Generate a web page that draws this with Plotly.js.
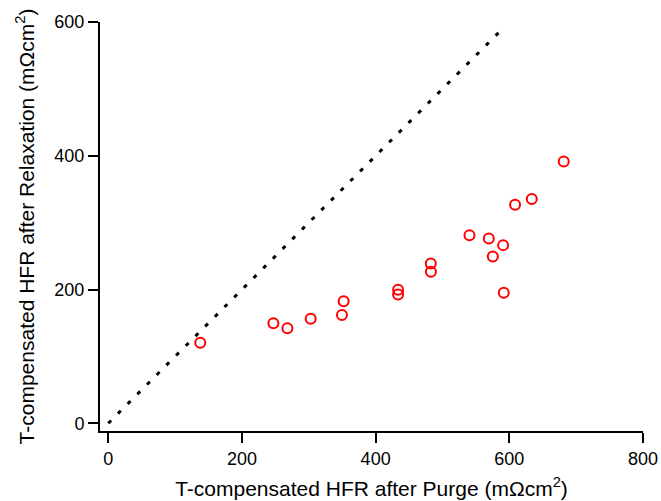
<!DOCTYPE html>
<html>
<head>
<meta charset="utf-8">
<script src="https://cdn.plot.ly/plotly-3.0.1.min.js"></script>
<style>html,body{margin:0;padding:0;background:#fff;}#chart{width:661px;height:501px;}</style>
</head>
<body>
<div id="chart"></div>
<script>
// HFR after purge (x) vs after relaxation (y), mΩcm²
const purgeHFR = [137.6, 247.0, 268.0, 302.8, 349.6, 352.1, 433.6, 433.6, 482.7, 482.5, 540.4, 569.3, 590.7, 575.3, 591.7, 608.6, 633.6, 681.4];
const relaxHFR = [120.3, 149.5, 142.2, 156.2, 161.8, 182.4, 192.6, 199.6, 226.5, 239.0, 281.3, 276.4, 266.4, 249.4, 195.1, 326.8, 335.2, 391.6];
// y = x reference line end points
const refX = [0, 592];
const refY = [0, 592];
const xTicks = [0, 200, 400, 600, 800];
const yTicks = [0, 200, 400, 600];

const font = 'Liberation Sans, Arial, Helvetica, sans-serif';

const traces = [
  {
    x: refX, y: refY, mode: 'lines', type: 'scatter',
    line: {color: '#000', width: 3, dash: '4px,9.7px'},
    hoverinfo: 'skip', showlegend: false
  },
  {
    x: purgeHFR, y: relaxHFR, mode: 'markers', type: 'scatter',
    marker: {symbol: 'circle-open', size: 10, color: '#ff0000', line: {width: 2, color: '#ff0000'}},
    showlegend: false
  }
];

const layout = {
  width: 661, height: 501,
  margin: {l: 100, r: 17.7, t: 21.7, b: 70.3},
  paper_bgcolor: '#fff', plot_bgcolor: '#fff',
  font: {family: font, size: 18, color: '#000'},
  showlegend: false,
  xaxis: {
    range: [-12.4, 800], tickvals: xTicks, ticktext: xTicks.map(String),
    showline: true, linewidth: 2, linecolor: '#000',
    ticks: 'outside', ticklen: 10, tickwidth: 2, tickcolor: '#000',
    showgrid: false, zeroline: false,
    tickfont: {family: font, size: 18, color: '#000'},
    title: {text: 'T-compensated HFR after Purge (mΩcm<sup>2</sup>)', font: {family: font, size: 21, color: '#000'}, standoff: 14}
  },
  yaxis: {
    range: [-11.5, 600], tickvals: yTicks, ticktext: yTicks.map(String),
    showline: true, linewidth: 2, linecolor: '#000',
    ticks: 'outside', ticklen: 10, tickwidth: 2, tickcolor: '#000',
    showgrid: false, zeroline: false,
    tickfont: {family: font, size: 18, color: '#000'},
    title: {text: 'T-compensated HFR after Relaxation (mΩcm<sup>2</sup>)', font: {family: font, size: 21, color: '#000'}, standoff: 14}
  }
};

Plotly.newPlot('chart', traces, layout, {staticPlot: true, displayModeBar: false});
</script>
</body>
</html>
